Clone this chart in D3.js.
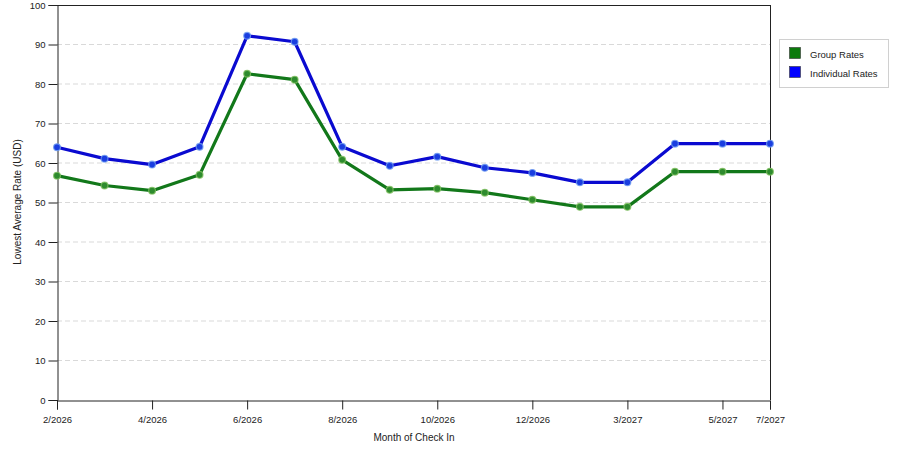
<!DOCTYPE html>
<html><head><meta charset="utf-8">
<script src="https://cdn.jsdelivr.net/npm/d3@7"></script>
<style>body{margin:0;background:#fff;} svg{display:block;font-family:"Liberation Sans",Arial,sans-serif;}</style>
</head><body><svg id="c" width="900" height="450"></svg>
<script>
const months = ["2/2026","3/2026","4/2026","5/2026","6/2026","7/2026","8/2026","9/2026","10/2026","11/2026","12/2026","1/2027","3/2027","4/2027","5/2027","7/2027"];
const tickLabels = ["2/2026","4/2026","6/2026","8/2026","10/2026","12/2026","3/2027","5/2027","7/2027"];
const groupRates = [56.8,54.3,53.0,57.0,82.6,81.1,60.8,53.2,53.5,52.5,50.7,48.9,48.9,57.8,57.8,57.8];
const individualRates = [64.0,61.1,59.6,64.1,92.2,90.7,64.1,59.3,61.6,58.8,57.5,55.1,55.1,64.9,64.9,64.9];
const yTicks = [0,10,20,30,40,50,60,70,80,90,100];
const seriesNames = ["Group Rates","Individual Rates"];

const svg = d3.select("#c");
const L=57, R=770, T=5, B=400;
const x = d3.scalePoint().domain(months).range([L,R]);
const y = d3.scaleLinear().domain([0,100]).range([B,T]);

// grid
svg.append("g").selectAll("line").data(yTicks.filter(d=>d>0&&d<100)).join("line")
  .attr("x1",L).attr("x2",R).attr("y1",d=>y(d)).attr("y2",d=>y(d))
  .attr("stroke","#d9d9d9").attr("stroke-dasharray","5,3").attr("stroke-width",1);

// frame top/right
svg.append("line").attr("x1",L).attr("x2",R).attr("y1",T+0.5).attr("y2",T+0.5).attr("stroke","#222");
svg.append("line").attr("x1",R+0.5).attr("x2",R+0.5).attr("y1",T).attr("y2",B).attr("stroke","#222");

// axes
const ya = svg.append("g").attr("transform",`translate(${L+0.5},0)`)
  .call(d3.axisLeft(y).tickValues(yTicks).tickSize(9).tickPadding(3));
const xa = svg.append("g").attr("transform",`translate(0,${B+0.5})`)
  .call(d3.axisBottom(x).tickValues(tickLabels).tickSize(9).tickPadding(7));
[ya,xa].forEach(a=>{
  a.select(".domain").attr("stroke","#222");
  a.selectAll(".tick line").attr("stroke","#222");
  a.selectAll("text").attr("fill","#222").style("font-size","9.5px").style("font-family",'"Liberation Sans",Arial,sans-serif');
});
ya.selectAll(".tick text").attr("dy","0.34em");

// titles
svg.append("text").attr("x",414).attr("y",441).attr("text-anchor","middle")
  .style("font-size","10px").attr("fill","#222").text("Month of Check In");
svg.append("text").attr("transform","translate(21,202) rotate(-90)").attr("text-anchor","middle")
  .style("font-size","10px").attr("fill","#222").text("Lowest Average Rate (USD)");

// series
const series = [
  {name:seriesNames[0], vals:groupRates, line:"#12781a", pt:"#2e8b2e", halo:"#7fbf5f", sw:"#0b7a0b"},
  {name:seriesNames[1], vals:individualRates, line:"#0a0ad0", pt:"#1a3ee0", halo:"#6f9cf0", sw:"#0000ff"}
];
const line = d3.line().x((d,i)=>x(months[i])).y(d=>y(d));
series.forEach(s=>{
  svg.append("path").datum(s.vals).attr("d",line).attr("fill","none")
    .attr("stroke",s.line).attr("stroke-width",3.2).attr("stroke-linejoin","round");
  svg.append("g").selectAll("circle").data(s.vals).join("circle")
    .attr("cx",(d,i)=>x(months[i])).attr("cy",d=>y(d)).attr("r",3.4)
    .attr("fill",s.pt).attr("stroke",s.halo).attr("stroke-opacity",0.8).attr("stroke-width",1.2);
});

// legend
const lg = svg.append("g");
lg.append("rect").attr("x",779.5).attr("y",39.5).attr("width",109).attr("height",48)
  .attr("fill","#fff").attr("stroke","#d0d0d0");
series.forEach((s,i)=>{
  lg.append("rect").attr("x",789.5).attr("y",47.5+i*19).attr("width",11).attr("height",11)
    .attr("fill",s.sw).attr("stroke","#333").attr("stroke-width",0.6);
  lg.append("text").attr("x",810).attr("y",57.5+i*19).style("font-size","9.5px").attr("fill","#222").text(s.name);
});
</script></body></html>
